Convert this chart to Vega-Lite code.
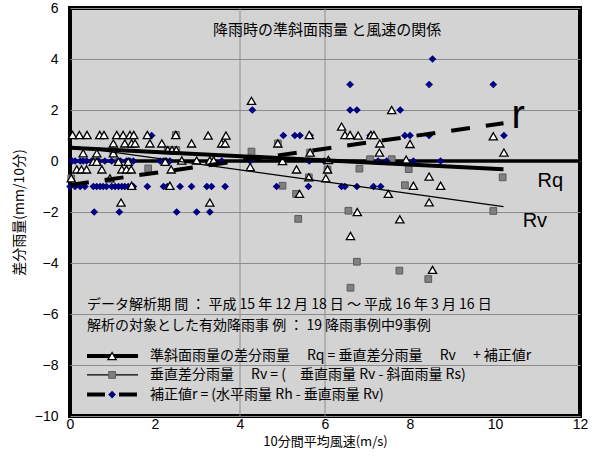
{
  "$schema": "https://vega.github.io/schema/vega-lite/v6.json",
  "width": 510,
  "height": 408,
  "autosize": {"type": "none"},
  "padding": {"left": 70, "top": 8, "right": 19, "bottom": 40},
  "background": "white",
  "config": {
    "view": {"fill": "#d3d3d3", "stroke": "#000000", "strokeWidth": 4},
    "font": "Liberation Sans"
  },
  "datasets": {
    "pts": [
      {"s": "Rv", "x": 1.84, "y": -0.29}, {"s": "Rv", "x": 2.49, "y": 1.02}, {"s": "Rv", "x": 4.27, "y": 0.37},
      {"s": "Rv", "x": 5.0, "y": -0.97}, {"s": "Rv", "x": 4.89, "y": 0.69}, {"s": "Rv", "x": 5.62, "y": -0.64},
      {"s": "Rv", "x": 7.06, "y": 0.07}, {"s": "Rv", "x": 7.57, "y": 0.07}, {"s": "Rv", "x": 6.81, "y": -0.3},
      {"s": "Rv", "x": 5.32, "y": -1.29}, {"s": "Rv", "x": 7.88, "y": -0.95}, {"s": "Rv", "x": 6.55, "y": -1.95},
      {"s": "Rv", "x": 5.37, "y": -2.27}, {"s": "Rv", "x": 7.97, "y": -0.32}, {"s": "Rv", "x": 6.75, "y": -3.95},
      {"s": "Rv", "x": 7.75, "y": -4.3}, {"s": "Rv", "x": 8.43, "y": -4.63}, {"s": "Rv", "x": 6.6, "y": -4.97},
      {"s": "Rv", "x": 10.18, "y": -0.64}, {"s": "Rv", "x": 9.96, "y": -1.96}, {"s": "Rv", "x": 0.03, "y": -0.68},
      {"s": "Rv", "x": 2.3, "y": 0.43}, {"s": "Rv", "x": 2.4, "y": 0.43}, {"s": "Rv", "x": 2.5, "y": 0.43},
      {"s": "Rv", "x": 1.02, "y": 0.3}, {"s": "Rv", "x": 0.63, "y": -0.03}, {"s": "Rv", "x": 1.14, "y": -0.03},
      {"s": "Rv", "x": 6.06, "y": -0.33}, {"s": "Rv", "x": 5.65, "y": 0.33},

      {"s": "r", "x": 8.53, "y": 4}, {"s": "r", "x": 6.59, "y": 3}, {"s": "r", "x": 8.45, "y": 3}, {"s": "r", "x": 9.96, "y": 3},
      {"s": "r", "x": 4.29, "y": 2}, {"s": "r", "x": 6.59, "y": 2}, {"s": "r", "x": 6.75, "y": 2}, {"s": "r", "x": 7.77, "y": 2},
      {"s": "r", "x": 1.92, "y": 1}, {"s": "r", "x": 5.02, "y": 1}, {"s": "r", "x": 5.29, "y": 1}, {"s": "r", "x": 5.41, "y": 1},
      {"s": "r", "x": 5.65, "y": 1}, {"s": "r", "x": 7.06, "y": 1}, {"s": "r", "x": 7.88, "y": 1}, {"s": "r", "x": 8.0, "y": 1},
      {"s": "r", "x": 8.45, "y": 1}, {"s": "r", "x": 10.21, "y": 1},
      {"s": "r", "x": 0.05, "y": 0}, {"s": "r", "x": 0.12, "y": 0}, {"s": "r", "x": 0.24, "y": 0}, {"s": "r", "x": 0.31, "y": 0},
      {"s": "r", "x": 0.39, "y": 0}, {"s": "r", "x": 0.51, "y": 0}, {"s": "r", "x": 0.67, "y": 0}, {"s": "r", "x": 0.82, "y": 0},
      {"s": "r", "x": 0.98, "y": 0}, {"s": "r", "x": 1.14, "y": 0}, {"s": "r", "x": 1.18, "y": 0}, {"s": "r", "x": 1.33, "y": 0},
      {"s": "r", "x": 1.41, "y": 0}, {"s": "r", "x": 1.49, "y": 0}, {"s": "r", "x": 2.12, "y": 0}, {"s": "r", "x": 2.2, "y": 0},
      {"s": "r", "x": 2.27, "y": 0}, {"s": "r", "x": 2.35, "y": 0}, {"s": "r", "x": 3.57, "y": 0}, {"s": "r", "x": 4.24, "y": 0},
      {"s": "r", "x": 5.63, "y": 0}, {"s": "r", "x": 5.98, "y": 0}, {"s": "r", "x": 7.25, "y": 0}, {"s": "r", "x": 7.45, "y": 0},
      {"s": "r", "x": 8.08, "y": 0}, {"s": "r", "x": 8.72, "y": 0},
      {"s": "r", "x": 0.0, "y": -1}, {"s": "r", "x": 0.12, "y": -1}, {"s": "r", "x": 0.24, "y": -1}, {"s": "r", "x": 0.35, "y": -1},
      {"s": "r", "x": 0.55, "y": -1}, {"s": "r", "x": 0.63, "y": -1}, {"s": "r", "x": 0.71, "y": -1}, {"s": "r", "x": 0.78, "y": -1},
      {"s": "r", "x": 0.86, "y": -1}, {"s": "r", "x": 0.98, "y": -1}, {"s": "r", "x": 1.06, "y": -1}, {"s": "r", "x": 1.14, "y": -1},
      {"s": "r", "x": 1.22, "y": -1}, {"s": "r", "x": 1.29, "y": -1}, {"s": "r", "x": 1.37, "y": -1}, {"s": "r", "x": 1.49, "y": -1},
      {"s": "r", "x": 1.82, "y": -1}, {"s": "r", "x": 2.2, "y": -1}, {"s": "r", "x": 2.29, "y": -1}, {"s": "r", "x": 2.59, "y": -1},
      {"s": "r", "x": 2.86, "y": -1}, {"s": "r", "x": 3.22, "y": -1}, {"s": "r", "x": 3.33, "y": -1}, {"s": "r", "x": 3.65, "y": -1},
      {"s": "r", "x": 4.86, "y": -1}, {"s": "r", "x": 5.61, "y": -1}, {"s": "r", "x": 6.39, "y": -1}, {"s": "r", "x": 6.47, "y": -1},
      {"s": "r", "x": 6.75, "y": -1}, {"s": "r", "x": 7.14, "y": -1}, {"s": "r", "x": 7.31, "y": -1},
      {"s": "r", "x": 0.57, "y": -2}, {"s": "r", "x": 1.16, "y": -2}, {"s": "r", "x": 2.51, "y": -2}, {"s": "r", "x": 2.98, "y": -2},
      {"s": "r", "x": 3.29, "y": -2},

      {"s": "Rq", "x": 0.06, "y": 1.02}, {"s": "Rq", "x": 0.22, "y": 1.02}, {"s": "Rq", "x": 0.4, "y": 1.02},
      {"s": "Rq", "x": 0.7, "y": 1.02}, {"s": "Rq", "x": 0.8, "y": 1.02}, {"s": "Rq", "x": 1.1, "y": 1.02},
      {"s": "Rq", "x": 1.25, "y": 1.02}, {"s": "Rq", "x": 1.41, "y": 1.02}, {"s": "Rq", "x": 1.5, "y": 1.02},
      {"s": "Rq", "x": 1.82, "y": 1.02}, {"s": "Rq", "x": 2.49, "y": 1.02}, {"s": "Rq", "x": 3.25, "y": 1.0},
      {"s": "Rq", "x": 3.67, "y": 1.0}, {"s": "Rq", "x": 5.63, "y": 1.02}, {"s": "Rq", "x": 6.47, "y": 1.02},
      {"s": "Rq", "x": 6.59, "y": 1.02}, {"s": "Rq", "x": 6.78, "y": 1.0}, {"s": "Rq", "x": 7.08, "y": 1.02},
      {"s": "Rq", "x": 7.15, "y": 1.02}, {"s": "Rq", "x": 9.96, "y": 0.97},
      {"s": "Rq", "x": 4.27, "y": 2.36}, {"s": "Rq", "x": 6.39, "y": 1.35}, {"s": "Rq", "x": 7.57, "y": 2.0},
      {"s": "Rq", "x": 1.02, "y": 0.69}, {"s": "Rq", "x": 1.29, "y": 0.69}, {"s": "Rq", "x": 1.45, "y": 0.69},
      {"s": "Rq", "x": 1.53, "y": 0.69}, {"s": "Rq", "x": 1.88, "y": 0.69}, {"s": "Rq", "x": 2.16, "y": 0.69},
      {"s": "Rq", "x": 2.86, "y": 0.69}, {"s": "Rq", "x": 3.57, "y": 0.69}, {"s": "Rq", "x": 3.65, "y": 0.69},
      {"s": "Rq", "x": 4.89, "y": 0.69}, {"s": "Rq", "x": 7.29, "y": 0.69}, {"s": "Rq", "x": 8.0, "y": 0.67},
      {"s": "Rq", "x": 0.31, "y": 0.3}, {"s": "Rq", "x": 0.63, "y": 0.3}, {"s": "Rq", "x": 1.02, "y": 0.3},
      {"s": "Rq", "x": 2.3, "y": 0.43}, {"s": "Rq", "x": 2.4, "y": 0.43}, {"s": "Rq", "x": 2.5, "y": 0.43},
      {"s": "Rq", "x": 5.65, "y": 0.33}, {"s": "Rq", "x": 7.28, "y": 0.33}, {"s": "Rq", "x": 10.21, "y": 0.33},
      {"s": "Rq", "x": 0.55, "y": -0.03}, {"s": "Rq", "x": 0.63, "y": -0.03}, {"s": "Rq", "x": 1.14, "y": -0.03},
      {"s": "Rq", "x": 1.37, "y": -0.03}, {"s": "Rq", "x": 2.24, "y": -0.03}, {"s": "Rq", "x": 2.63, "y": 0.02},
      {"s": "Rq", "x": 2.98, "y": 0.02}, {"s": "Rq", "x": 3.29, "y": 0.02}, {"s": "Rq", "x": 3.38, "y": 0.02},
      {"s": "Rq", "x": 5.0, "y": 0.0}, {"s": "Rq", "x": 6.08, "y": 0.04}, {"s": "Rq", "x": 7.91, "y": 0.05},
      {"s": "Rq", "x": 0.16, "y": -0.33}, {"s": "Rq", "x": 0.27, "y": -0.33}, {"s": "Rq", "x": 0.39, "y": -0.33},
      {"s": "Rq", "x": 0.75, "y": -0.33}, {"s": "Rq", "x": 1.22, "y": -0.33}, {"s": "Rq", "x": 1.33, "y": -0.33},
      {"s": "Rq", "x": 1.44, "y": -0.33}, {"s": "Rq", "x": 2.38, "y": -0.33}, {"s": "Rq", "x": 4.24, "y": -0.24},
      {"s": "Rq", "x": 5.33, "y": -0.33}, {"s": "Rq", "x": 6.06, "y": -0.33},
      {"s": "Rq", "x": 0.94, "y": -0.68}, {"s": "Rq", "x": 5.62, "y": -0.64}, {"s": "Rq", "x": 6.02, "y": -0.68},
      {"s": "Rq", "x": 8.45, "y": -0.61}, {"s": "Rq", "x": 0.03, "y": -0.68},
      {"s": "Rq", "x": 1.45, "y": -0.97}, {"s": "Rq", "x": 2.35, "y": -0.97}, {"s": "Rq", "x": 8.08, "y": -0.97},
      {"s": "Rq", "x": 8.72, "y": -0.97},
      {"s": "Rq", "x": 5.4, "y": -1.29}, {"s": "Rq", "x": 7.49, "y": -1.29}, {"s": "Rq", "x": 8.45, "y": -1.62},
      {"s": "Rq", "x": 1.2, "y": -1.63}, {"s": "Rq", "x": 3.29, "y": -1.63},
      {"s": "Rq", "x": 6.76, "y": -2.0}, {"s": "Rq", "x": 7.76, "y": -2.29}, {"s": "Rq", "x": 6.6, "y": -2.94},
      {"s": "Rq", "x": 8.53, "y": -4.27}
    ],
    "trend": [
      {"s": "Rq", "x": 0, "y": 0.52}, {"s": "Rq", "x": 10.2, "y": -0.32},
      {"s": "Rv", "x": 0, "y": 0.58}, {"s": "Rv", "x": 10.2, "y": -1.79},
      {"s": "r", "x": 0, "y": -0.94}, {"s": "r", "x": 10.2, "y": 1.48}
    ],
    "vgrid": [{"x": 4, "y": -10, "y2": 6}, {"x": 6, "y": -10, "y2": 6}],
    "zero": [{"x": 0, "x2": 12, "y": 0}],
    "legline": [
      {"s": "Rq", "x": 0.4, "x2": 1.6, "y": -7.65},
      {"s": "Rv", "x": 0.4, "x2": 1.6, "y": -8.39},
      {"s": "r", "x": 0.4, "x2": 1.6, "y": -9.16}
    ],
    "legpt": [
      {"s": "Rq", "x": 0.99, "y": -7.65},
      {"s": "Rv", "x": 0.99, "y": -8.39},
      {"s": "r", "x": 0.99, "y": -9.16}
    ],
    "notes": [
      {"k": "title", "x": 6.05, "y": 5.14, "label": "降雨時の準斜面雨量 と風速の関係"},
      {"k": "txt", "x": 0.4, "y": -5.65, "label": "データ解析期 間 ： 平成 15 年 12 月 18 日 ～ 平成 16 年 3 月 16 日"},
      {"k": "txt", "x": 0.4, "y": -6.47, "label": "解析の対象とした有効降雨事 例 ： 19 降雨事例中9事例"},
      {"k": "txt", "x": 1.88, "y": -7.65, "label": "準斜面雨量の差分雨量　 Rq = 垂直差分雨量　 Rv　 + 補正値r"},
      {"k": "txt", "x": 1.88, "y": -8.39, "label": "垂直差分雨量　 Rv = (　垂直雨量 Rv - 斜面雨量 Rs)"},
      {"k": "txt", "x": 1.88, "y": -9.16, "label": "補正値r = (水平雨量 Rh - 垂直雨量 Rv)"},
      {"k": "big", "x": 10.39, "y": 1.28, "label": "r"},
      {"k": "mid", "x": 11.0, "y": -1.03, "label": "Rq"},
      {"k": "mid", "x": 10.65, "y": -2.58, "label": "Rv"}
    ]
  },
  "encoding": {
    "x": {
      "field": "x", "type": "quantitative",
      "scale": {"domain": [0, 12], "nice": false, "zero": false},
      "axis": {
        "values": [0, 2, 4, 6, 8, 10, 12], "grid": false, "ticks": false, "domain": false,
        "labelFontSize": 14, "labelColor": "#000000", "labelPadding": 1, "labelFlush": false,
        "title": "10分間平均風速(m/s)", "titleFont": "Noto Sans CJK JP", "titleFontSize": 13,
        "titleFontWeight": "normal", "titleColor": "#000000", "titlePadding": 4
      }
    },
    "y": {
      "field": "y", "type": "quantitative",
      "scale": {"domain": [-10, 6], "nice": false, "zero": false},
      "axis": {
        "values": [-10, -8, -6, -4, -2, 0, 2, 4, 6], "grid": true, "gridColor": "#8c8c8c", "gridWidth": 1,
        "ticks": false, "domain": false, "labelFontSize": 14, "labelColor": "#000000", "labelPadding": 12,
        "labelFlush": false,
        "title": "差分雨量(mm/10分)", "titleFont": "Noto Sans CJK JP", "titleFontSize": 14,
        "titleFontWeight": "normal", "titleColor": "#000000", "titlePadding": 8
      }
    }
  },
  "layer": [
    {
      "data": {"name": "vgrid"},
      "mark": {"type": "rule", "color": "#8c8c8c", "strokeWidth": 1},
      "encoding": {"y2": {"field": "y2"}}
    },
    {
      "data": {"name": "zero"},
      "mark": {"type": "rule", "color": "#000000", "strokeWidth": 3.5},
      "encoding": {"x2": {"field": "x2"}}
    },
    {
      "data": {"name": "pts"},
      "transform": [{"filter": "datum.s === 'Rv'"}],
      "mark": {"type": "point", "shape": "square", "filled": true, "fill": "#808080", "stroke": "#5a5a5a", "strokeWidth": 1, "size": 45, "opacity": 1},
      "encoding": {}
    },
    {
      "data": {"name": "pts"},
      "transform": [{"filter": "datum.s === 'r'"}],
      "mark": {"type": "point", "shape": "diamond", "filled": true, "fill": "#000080", "strokeWidth": 0, "size": 60, "opacity": 1},
      "encoding": {}
    },
    {
      "data": {"name": "pts"},
      "transform": [{"filter": "datum.s === 'Rq'"}],
      "mark": {"type": "point", "shape": "triangle-up", "filled": true, "fill": "#ffffff", "stroke": "#000000", "strokeWidth": 1.3, "size": 68, "opacity": 1},
      "encoding": {}
    },
    {
      "data": {"name": "trend"},
      "transform": [{"filter": "datum.s === 'Rv'"}],
      "mark": {"type": "line", "color": "#000000", "strokeWidth": 1.2},
      "encoding": {}
    },
    {
      "data": {"name": "trend"},
      "transform": [{"filter": "datum.s === 'Rq'"}],
      "mark": {"type": "line", "color": "#000000", "strokeWidth": 4},
      "encoding": {}
    },
    {
      "data": {"name": "trend"},
      "transform": [{"filter": "datum.s === 'r'"}],
      "mark": {"type": "line", "color": "#000000", "strokeWidth": 4, "strokeDash": [19, 16]},
      "encoding": {}
    },
    {
      "data": {"name": "legline"},
      "transform": [{"filter": "datum.s === 'Rq'"}],
      "mark": {"type": "rule", "color": "#000000", "strokeWidth": 4},
      "encoding": {"x2": {"field": "x2"}}
    },
    {
      "data": {"name": "legline"},
      "transform": [{"filter": "datum.s === 'Rv'"}],
      "mark": {"type": "rule", "color": "#000000", "strokeWidth": 1.2},
      "encoding": {"x2": {"field": "x2"}}
    },
    {
      "data": {"name": "legline"},
      "transform": [{"filter": "datum.s === 'r'"}],
      "mark": {"type": "rule", "color": "#000000", "strokeWidth": 4, "strokeDash": [18, 14]},
      "encoding": {"x2": {"field": "x2"}}
    },
    {
      "data": {"name": "legpt"},
      "transform": [{"filter": "datum.s === 'Rv'"}],
      "mark": {"type": "point", "shape": "square", "filled": true, "fill": "#808080", "stroke": "#5a5a5a", "strokeWidth": 1, "size": 45, "opacity": 1},
      "encoding": {}
    },
    {
      "data": {"name": "legpt"},
      "transform": [{"filter": "datum.s === 'r'"}],
      "mark": {"type": "point", "shape": "diamond", "filled": true, "fill": "#000080", "strokeWidth": 0, "size": 60, "opacity": 1},
      "encoding": {}
    },
    {
      "data": {"name": "legpt"},
      "transform": [{"filter": "datum.s === 'Rq'"}],
      "mark": {"type": "point", "shape": "triangle-up", "filled": true, "fill": "#ffffff", "stroke": "#000000", "strokeWidth": 1.3, "size": 68, "opacity": 1},
      "encoding": {}
    },
    {
      "data": {"name": "notes"},
      "transform": [{"filter": "datum.k === 'title'"}],
      "mark": {"type": "text", "font": "Noto Sans CJK JP", "fontSize": 15, "align": "center", "baseline": "middle", "color": "#000000"},
      "encoding": {"text": {"field": "label"}}
    },
    {
      "data": {"name": "notes"},
      "transform": [{"filter": "datum.k === 'txt'"}],
      "mark": {"type": "text", "font": "Noto Sans CJK JP", "fontSize": 14, "align": "left", "baseline": "middle", "color": "#000000"},
      "encoding": {"text": {"field": "label"}}
    },
    {
      "data": {"name": "notes"},
      "transform": [{"filter": "datum.k === 'big'"}],
      "mark": {"type": "text", "font": "Liberation Sans", "fontSize": 40, "align": "left", "baseline": "alphabetic", "color": "#000000"},
      "encoding": {"text": {"field": "label"}}
    },
    {
      "data": {"name": "notes"},
      "transform": [{"filter": "datum.k === 'mid'"}],
      "mark": {"type": "text", "font": "Liberation Sans", "fontSize": 20, "align": "left", "baseline": "alphabetic", "color": "#000000"},
      "encoding": {"text": {"field": "label"}}
    }
  ]
}
